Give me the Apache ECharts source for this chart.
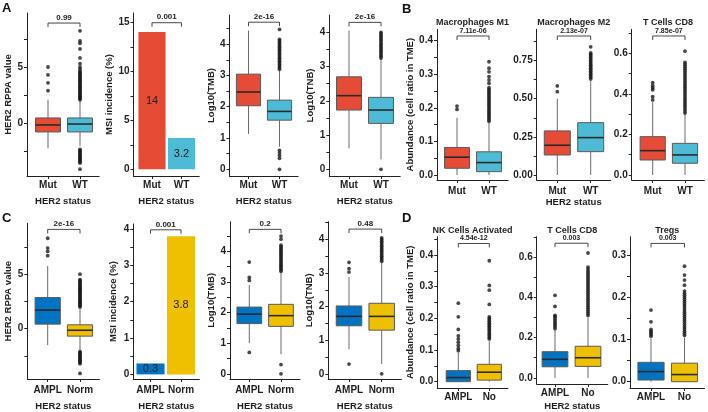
<!DOCTYPE html>
<html><head><meta charset="utf-8">
<script src="https://cdn.jsdelivr.net/npm/echarts@6/dist/echarts.min.js"></script>
<style>html,body{margin:0;padding:0;background:#fff}#c{width:708px;height:412px}</style>
</head><body><div id="c"></div>
<script>
// ---------------- DATA ----------------
const catsMut = ['Mut', 'WT'];
const catsAmpC = ['AMPL', 'Norm'];
const catsAmpD = ['AMPL', 'No'];
const xTitle = 'HER2 status';

// box stats: [lower whisker, Q1, median, Q3, upper whisker]
// A: HER2 mutation
const rppaMutStats = [-2.2, -0.75, -0.13, 0.49, 2.1];
const rppaWtStats = [-2.0, -0.75, -0.05, 0.49, 2.0];
const rppaMutOut = [2.9, 3.6, 4.3, 5.0];
const rppaWtOut = [-4.05, -3.5, -3.4, -3.3, -3.2, -3.1, -3.0, -2.9, -2.8, -2.7, -2.6, -2.5, -2.4, -2.3,
  2.1, 2.2, 2.3, 2.4, 2.5, 2.6, 2.7, 2.8, 2.9, 3.0, 3.1, 3.2, 3.3, 3.4, 3.5, 3.6, 3.7, 3.8, 3.9, 4.0,
  4.1, 4.2, 4.3, 4.4, 4.5, 4.6, 4.8, 5.0, 5.3, 5.8, 6.6, 7.1, 7.3, 8.2];
const msiMutPct = [14, 3.2];
const tmbMutStats = [1.13, 2.03, 2.47, 3.04, 4.43];
const tmbWtStats = [0.72, 1.57, 1.85, 2.21, 3.17];
const tmbMutOut = [];
const tmbWtOut = [0.0, 0.35, 0.44, 0.52, 0.6, 3.2, 3.25, 3.3, 3.35, 3.4, 3.45, 3.5, 3.55, 3.6, 3.65, 3.7,
  3.75, 3.8, 3.85, 3.9, 3.95, 4.0, 4.05, 4.1, 4.15, 4.47];
const tnbMutStats = [0.61, 1.73, 2.15, 2.7, 4.05];
const tnbWtStats = [0.29, 1.34, 1.73, 2.1, 3.22];
const tnbMutOut = [];
const tnbWtOut = [0.0, 3.25, 3.3, 3.35, 3.4, 3.45, 3.5, 3.55, 3.6, 3.65, 3.7, 3.75, 3.8, 3.85, 3.9, 3.95, 4.0];

// B: immune cells, HER2 mutation
const m1MutStats = [0, 0.02, 0.053, 0.082, 0.17];
const m1WtStats = [0, 0.01, 0.037, 0.069, 0.155];
const m1MutOut = [0.195, 0.205];
const m1WtOut = [0.16, 0.165, 0.17, 0.175, 0.18, 0.185, 0.19, 0.195, 0.2, 0.205, 0.21, 0.215, 0.22, 0.225,
  0.23, 0.235, 0.24, 0.245, 0.25, 0.255, 0.26, 0.273, 0.283, 0.293, 0.307, 0.318, 0.337];
const m2MutStats = [0, 0.131, 0.195, 0.289, 0.50];
const m2WtStats = [0, 0.153, 0.245, 0.343, 0.62];
const m2MutOut = [0.546, 0.584];
const m2WtOut = [0.63, 0.64, 0.65, 0.66, 0.67, 0.68, 0.69, 0.70, 0.71, 0.72, 0.73, 0.74, 0.75, 0.76, 0.77,
  0.78, 0.79, 0.80, 0.84];
const cd8MutStats = [0, 0.074, 0.12, 0.189, 0.36];
const cd8WtStats = [0, 0.058, 0.099, 0.156, 0.30];
const cd8MutOut = [0.37, 0.386, 0.42, 0.43, 0.44, 0.455];
const cd8WtOut = [0.305, 0.315, 0.325, 0.335, 0.345, 0.355, 0.365, 0.375, 0.385, 0.395, 0.405, 0.415, 0.425,
  0.435, 0.445, 0.455, 0.465, 0.475, 0.485, 0.495, 0.505, 0.515, 0.525, 0.535, 0.545, 0.555, 0.61];

// C: HER2 amplification
const rppaAmpStats = [-1.5, 0.42, 1.71, 2.86, 5.75];
const rppaNormStats = [-2.0, -0.68, -0.14, 0.36, 1.9];
const rppaAmpOut = [6.7, 7.1, 7.4, 8.3];
const rppaNormOut = [-4.1, -3.2, -3.1, -3.0, -2.9, -2.8, -2.7, -2.6, -2.5, -2.4, -2.3, -2.2, -2.1,
  2.0, 2.1, 2.2, 2.3, 2.4, 2.5, 2.6, 2.7, 2.8, 2.9, 3.0, 3.1, 3.2, 3.3, 3.4, 3.5, 3.6, 3.7, 3.8, 3.9, 4.0,
  4.1, 4.2, 4.3, 4.4, 4.5, 5.0];
const msiAmpPct = [0.3, 3.8];
const tmbAmpStats = [1.0, 1.64, 1.95, 2.18, 2.9];
const tmbNormStats = [0.64, 1.55, 1.9, 2.27, 3.31];
const tmbAmpOut = [0.7, 3.05, 3.15, 3.65];
const tmbNormOut = [0.0, 0.3, 3.35, 3.4, 3.45, 3.5, 3.55, 3.6, 3.65, 3.7, 3.75, 3.8, 3.85, 3.9, 3.95, 4.0,
  4.05, 4.1, 4.15, 4.2, 4.4, 4.5];
const tnbAmpStats = [0.73, 1.43, 1.71, 2.02, 2.88];
const tnbNormStats = [0.29, 1.3, 1.71, 2.1, 3.3];
const tnbAmpOut = [0.29, 3.03, 3.13, 3.32];
const tnbNormOut = [0.0, 3.35, 3.4, 3.45, 3.5, 3.55, 3.6, 3.65, 3.7, 3.75, 3.8, 3.85, 3.9, 3.95, 4.0, 4.05];

// D: immune cells, HER2 amplification
const nkAmpStats = [0, 0.0, 0.013, 0.035, 0.092];
const nkNoStats = [0, 0.005, 0.03, 0.055, 0.128];
const nkAmpOut = [0.098, 0.105, 0.115, 0.125, 0.135, 0.145, 0.165, 0.205, 0.248];
const nkNoOut = [0.135, 0.14, 0.145, 0.15, 0.155, 0.16, 0.165, 0.17, 0.175, 0.18, 0.185, 0.19, 0.195, 0.2,
  0.205, 0.244, 0.289, 0.304, 0.382];
const cd8AmpStats = [0, 0.055, 0.092, 0.13, 0.24];
const cd8NoStats = [0, 0.057, 0.1, 0.157, 0.30];
const cd8AmpOut = [0.245, 0.255, 0.265, 0.275, 0.285, 0.295, 0.305, 0.31, 0.355, 0.41];
const cd8NoOut = [0.31, 0.32, 0.33, 0.34, 0.35, 0.36, 0.37, 0.38, 0.39, 0.40, 0.41, 0.42, 0.43, 0.44, 0.45,
  0.46, 0.47, 0.48, 0.49, 0.50, 0.51, 0.52, 0.53, 0.54, 0.55, 0.62];
const tregAmpStats = [0, 0.004, 0.024, 0.046, 0.103];
const tregNoStats = [0, 0.0, 0.017, 0.044, 0.105];
const tregAmpOut = [0.108, 0.112, 0.116, 0.12, 0.124, 0.142, 0.17];
const tregNoOut = [0.11, 0.115, 0.12, 0.125, 0.13, 0.135, 0.14, 0.145, 0.15, 0.155, 0.16, 0.165, 0.17, 0.175,
  0.18, 0.185, 0.19, 0.195, 0.2, 0.205, 0.21, 0.215, 0.229, 0.241, 0.253, 0.274];

const pValuesA = ['0.99', '0.001', '2e-16', '2e-16'];
const pValuesB = ['7.11e-06', '2.13e-07', '7.85e-07'];
const pValuesC = ['2e-16', '0.001', '0.2', '0.48'];
const pValuesD = ['4.54e-12', '0.003', '0.003'];
const titlesB = ['Macrophages M1', 'Macrophages M2', 'T Cells CD8'];
const titlesD = ['NK Cells Activated', 'T Cells CD8', 'Tregs'];
const yNames = ['HER2 RPPA value', 'MSI incidence (%)', 'Log10(TMB)', 'Log10(TNB)', 'Abundance (cell ratio in TME)'];

// ---------------- STYLE / LAYOUT ----------------
const FONT = '"Liberation Sans", Arial, sans-serif';
const TXT = '#1e1e1e';
const AX = '#222';
const colMut = ['#E64B35', '#4DBBD5'];
const colAmp = ['#0073C2', '#EFC000'];
const BOXW = 0.78, BARW = 0.92;

const panels = [
  {kind:'box', cats:catsMut, cols:colMut, stats:[rppaMutStats, rppaWtStats], outs:[rppaMutOut, rppaWtOut], p:pValuesA[0],
   L:27, C1:48, C2:80, T:13, B:176, y:[-4.65, 9.78], br:8.89, lab:[0,5], tk:[-2.5,0,2.5,5,7.5], dec:0, yName:yNames[0], yGap:12, xName:true, xGap:20, xm:4, pf:8},
  {kind:'bar', cats:catsMut, cols:colMut, vals:msiMutPct, p:pValuesA[1],
   L:133.5, C1:152, C2:181.5, T:13, B:176, y:[-0.68, 15.95], br:14.96, lab:[0,5,10,15], tk:[0,2.5,5,7.5,10,12.5,15], dec:0, yName:yNames[1], yGap:17, xName:true, xGap:20, xm:4, pf:8},
  {kind:'box', cats:catsMut, cols:colMut, stats:[tmbMutStats, tmbWtStats], outs:[tmbMutOut, tmbWtOut], p:pValuesA[2],
   L:229.5, C1:248.5, C2:279.5, T:15, B:176, y:[-0.214, 4.93], br:4.70, lab:[0,1,2,3,4], tk:[0,0.5,1,1.5,2,2.5,3,3.5,4,4.5], dec:0, yName:yNames[2], yGap:13, xName:true, xGap:20, xm:4, pf:8},
  {kind:'box', cats:catsMut, cols:colMut, stats:[tnbMutStats, tnbWtStats], outs:[tnbMutOut, tnbWtOut], p:pValuesA[3],
   L:329.3, C1:349, C2:381, T:15, B:176, y:[-0.196, 4.505], br:4.29, lab:[0,1,2,3,4], tk:[0,0.5,1,1.5,2,2.5,3,3.5,4], dec:0, yName:yNames[3], yGap:12.6, xName:true, xGap:20, xm:4, pf:8},

  {kind:'box', cats:catsMut, cols:colMut, stats:[m1MutStats, m1WtStats], outs:[m1MutOut, m1WtOut], p:pValuesB[0], title:titlesB[0],
   L:437, C1:457, C2:489, T:29.3, B:180, y:[-0.0149, 0.4336], br:0.4137, lab:[0,0.1,0.2,0.3,0.4], tk:[0,0.05,0.1,0.15,0.2,0.25,0.3,0.35,0.4], dec:1, yName:yNames[4], yGap:20, xName:false, xGap:17, xm:6, pf:7, ty:22.7},
  {kind:'box', cats:catsMut, cols:colMut, stats:[m2MutStats, m2WtStats], outs:[m2MutOut, m2WtOut], p:pValuesB[1], title:titlesB[1],
   L:536.7, C1:557.3, C2:590.7, T:29.3, B:180, y:[-0.0328, 0.955], br:0.911, lab:[0,0.25,0.5,0.75], tk:[0,0.125,0.25,0.375,0.5,0.625,0.75,0.875], dec:2, yName:'', yGap:20, xName:true, xGap:17, xm:6, pf:7, ty:22.7},
  {kind:'box', cats:catsMut, cols:colMut, stats:[cd8MutStats, cd8WtStats], outs:[cd8MutOut, cd8WtOut], p:pValuesB[2], title:titlesB[2],
   L:631.7, C1:652.7, C2:685, T:29.3, B:180, y:[-0.0246, 0.718], br:0.685, lab:[0,0.2,0.4,0.6], tk:[0,0.1,0.2,0.3,0.4,0.5,0.6,0.7], dec:1, yName:'', yGap:20, xName:false, xGap:17, xm:6, pf:7, ty:22.7},

  {kind:'box', cats:catsAmpC, cols:colAmp, stats:[rppaAmpStats, rppaNormStats], outs:[rppaAmpOut, rppaNormOut], p:pValuesC[0],
   L:27.3, C1:47.7, C2:80, T:223.3, B:382, y:[-4.61, 9.67], br:9.11, lab:[0,5], tk:[-2.5,0,2.5,5,7.5], dec:0, yName:yNames[0], yGap:12.3, xName:true, xGap:22, xm:6, pf:8},
  {kind:'bar', cats:catsAmpC, cols:colAmp, vals:msiAmpPct, p:pValuesC[1],
   L:133.3, C1:150.5, C2:181, T:224, B:382, y:[-0.127, 4.14], br:3.98, lab:[0,1,2,3,4], tk:[0,0.5,1,1.5,2,2.5,3,3.5,4], dec:0, yName:yNames[1], yGap:15.3, xName:true, xGap:22, xm:6, pf:8},
  {kind:'box', cats:catsAmpC, cols:colAmp, stats:[tmbAmpStats, tmbNormStats], outs:[tmbAmpOut, tmbNormOut], p:pValuesC[2],
   L:230, C1:249.3, C2:281, T:221.7, B:382, y:[-0.17, 4.97], br:4.72, lab:[0,1,2,3,4], tk:[0,0.5,1,1.5,2,2.5,3,3.5,4,4.5], dec:0, yName:yNames[2], yGap:12.3, xName:true, xGap:22, xm:6, pf:8},
  {kind:'box', cats:catsAmpC, cols:colAmp, stats:[tnbAmpStats, tnbNormStats], outs:[tnbAmpOut, tnbNormOut], p:pValuesC[3],
   L:328.3, C1:349, C2:381.7, T:221.7, B:382, y:[-0.155, 4.53], br:4.31, lab:[0,1,2,3,4], tk:[0,0.5,1,1.5,2,2.5,3,3.5,4,4.5], dec:0, yName:yNames[3], yGap:10.6, xName:true, xGap:22, xm:6, pf:8},

  {kind:'box', cats:catsAmpD, cols:colAmp, stats:[nkAmpStats, nkNoStats], outs:[nkAmpOut, nkNoOut], p:pValuesD[0], title:titlesD[0],
   L:437.3, C1:458.3, C2:489.3, T:236.7, B:388, y:[-0.0199, 0.458], br:0.4366, lab:[0,0.1,0.2,0.3,0.4], tk:[0,0.05,0.1,0.15,0.2,0.25,0.3,0.35,0.4,0.45], dec:1, yName:yNames[4], yGap:19.3, xName:false, xGap:17, xm:4, pf:7, ty:230.7},
  {kind:'box', cats:catsAmpD, cols:colAmp, stats:[cd8AmpStats, cd8NoStats], outs:[cd8AmpOut, cd8NoOut], p:pValuesD[1], title:titlesD[1],
   L:536.7, C1:555, C2:588, T:236.7, B:388, y:[-0.0304, 0.701], br:0.6686, lab:[0,0.2,0.4,0.6], tk:[0,0.1,0.2,0.3,0.4,0.5,0.6,0.7], dec:1, yName:'', yGap:19, xName:true, xGap:17, xm:4, pf:7, ty:230.7},
  {kind:'box', cats:catsAmpD, cols:colAmp, stats:[tregAmpStats, tregNoStats], outs:[tregAmpOut, tregNoOut], p:pValuesD[2], title:titlesD[2],
   L:630, C1:651, C2:684.5, T:236.7, B:388, y:[-0.0149, 0.344], br:0.328, lab:[0,0.1,0.2,0.3], tk:[0,0.05,0.1,0.15,0.2,0.25,0.3], dec:1, yName:'', yGap:19, xName:false, xGap:17, xm:4, pf:7, ty:230.7}
];

const grid = [], xAxis = [], yAxis = [], series = [], graphic = [];
const tickFont = {fontSize:10, fontWeight:'bold', color:TXT, fontFamily:FONT};
const nameFont = {fontSize:9.5, fontWeight:'bold', color:TXT, fontFamily:FONT};

panels.forEach((c, i) => {
  const sp = c.C2 - c.C1;
  const R = c.C2 + 0.6 * sp;
  const xmin = 1 - (c.C1 - c.L) / sp, xmax = 2 + (R - c.C2) / sp;
  grid.push({left:c.L, top:c.T, width:R - c.L, height:c.B - c.T, containLabel:false});
  xAxis.push({gridIndex:i, type:'value', min:xmin, max:xmax,
    axisLine:{show:true, onZero:false, lineStyle:{color:AX, width:1}},
    axisTick:{show:true, length:3, customValues:[1,2], lineStyle:{color:AX, width:1}},
    axisLabel:Object.assign({show:true, customValues:[1,2], margin:c.xm, formatter:(v) => c.cats[Math.round(v) - 1]}, tickFont),
    splitLine:{show:false},
    name:c.xName ? xTitle : '', nameLocation:'middle', nameGap:c.xGap, nameTextStyle:nameFont});
  yAxis.push({gridIndex:i, type:'value', min:c.y[0], max:c.y[1],
    axisLine:{show:true, onZero:false, lineStyle:{color:AX, width:1}},
    axisTick:{show:true, length:3, customValues:c.tk, lineStyle:{color:AX, width:1}},
    axisLabel:Object.assign({show:true, customValues:c.lab, margin:4, formatter:(v) => Number(v).toFixed(c.dec)}, tickFont),
    splitLine:{show:false},
    name:c.yName, nameLocation:'middle', nameGap:c.yGap, nameTextStyle:nameFont});

  if (c.kind === 'box') {
    series.push({type:'custom', xAxisIndex:i, yAxisIndex:i, silent:true, z:2,
      data:c.stats.map((s, k) => [k + 1].concat(s)),
      encode:{x:0, y:[1,2,3,4,5]},
      renderItem:(params, api) => {
        const x = api.value(0);
        const p = [1,2,3,4,5].map(d => api.coord([x, api.value(d)]));
        const w = api.size([BOXW, 0])[0];
        const cx = p[0][0];
        const col = c.cols[x - 1];
        return {type:'group', children:[
          {type:'line', shape:{x1:cx, y1:p[4][1], x2:cx, y2:p[3][1]}, style:{stroke:'#6b6b6b', lineWidth:1}},
          {type:'line', shape:{x1:cx, y1:p[1][1], x2:cx, y2:p[0][1]}, style:{stroke:'#6b6b6b', lineWidth:1}},
          {type:'rect', shape:{x:cx - w / 2, y:p[3][1], width:w, height:p[1][1] - p[3][1]}, style:{fill:col, stroke:'#5a5a5a', lineWidth:1}},
          {type:'line', shape:{x1:cx - w / 2, y1:p[2][1], x2:cx + w / 2, y2:p[2][1]}, style:{stroke:'#2a2a2a', lineWidth:1.6}}
        ]};
      }});
    const pts = [];
    c.outs.forEach((arr, k) => arr.forEach(v => pts.push([k + 1, v])));
    series.push({type:'scatter', xAxisIndex:i, yAxisIndex:i, silent:true, z:3, clip:false,
      symbol:'circle', symbolSize:3.8, itemStyle:{color:'#1a1a1a'}, data:pts});
  } else {
    series.push({type:'custom', xAxisIndex:i, yAxisIndex:i, silent:true, z:2,
      data:c.vals.map((v, k) => [k + 1, v]),
      encode:{x:0, y:1},
      renderItem:(params, api) => {
        const x = api.value(0), v = api.value(1);
        const a = api.coord([x - BARW / 2, v]), b = api.coord([x + BARW / 2, 0]);
        const m = api.coord([x, v / 2]);
        return {type:'group', children:[
          {type:'rect', shape:{x:a[0], y:a[1], width:b[0] - a[0], height:b[1] - a[1]}, style:{fill:c.cols[x - 1]}},
          {type:'text', x:m[0], y:m[1], style:{text:String(v), align:'center', verticalAlign:'middle', fontSize:11, fontFamily:FONT, fill:'#222'}}
        ]};
      }});
  }
  // significance bracket
  series.push({type:'custom', xAxisIndex:i, yAxisIndex:i, silent:true, z:4,
    data:[[1, 2, c.br]], encode:{x:[0,1], y:2},
    renderItem:(params, api) => {
      const a = api.coord([api.value(0), api.value(2)]), b = api.coord([api.value(1), api.value(2)]);
      return {type:'group', children:[
        {type:'polyline', shape:{points:[[a[0], a[1] + 4], [a[0], a[1]], [b[0], b[1]], [b[0], b[1] + 4]]}, style:{stroke:'#333', lineWidth:0.9, fill:null}},
        {type:'text', x:(a[0] + b[0]) / 2, y:a[1] - 1.5, style:{text:c.p, align:'center', verticalAlign:'bottom', fontSize:c.pf, fontWeight:'bold', fontFamily:FONT, fill:'#222'}}
      ]};
    }});
  if (c.title) {
    graphic.push({type:'text', x:(c.L + R) / 2, y:c.ty, style:{text:c.title, align:'center', verticalAlign:'middle', fontSize:9, fontWeight:'bold', fontFamily:FONT, fill:TXT}});
  }
});

[['A', 2, 2], ['B', 402, 3], ['C', 2, 212], ['D', 402, 212]].forEach(([t, x, y]) => {
  graphic.push({type:'text', x:x, y:y, style:{text:t, fontSize:13, fontWeight:'bold', fontFamily:FONT, fill:'#111'}});
});

const chart = echarts.init(document.getElementById('c'), null, {renderer:'canvas'});
chart.setOption({animation:false, backgroundColor:'#fff', grid, xAxis, yAxis, series, graphic});
</script>
</body></html>
